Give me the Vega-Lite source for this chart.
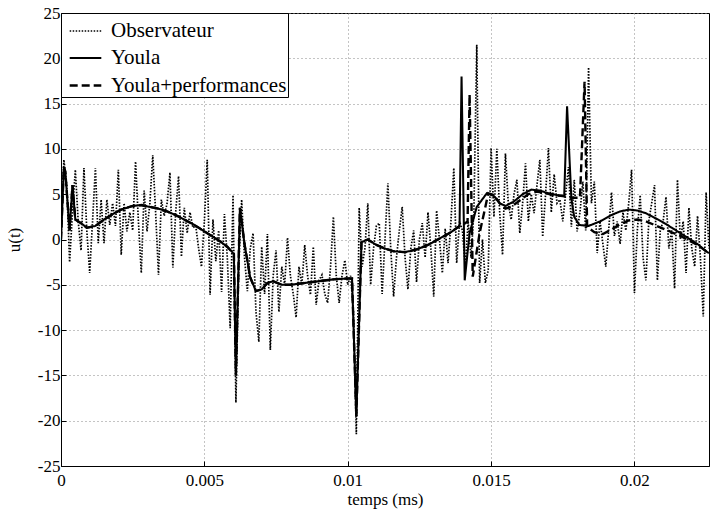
{
  "$schema": "https://vega.github.io/schema/vega-lite/v6.json",
  "width": 648,
  "height": 453,
  "autosize": {"type": "none"},
  "padding": {"left": 61, "top": 13, "right": 1, "bottom": 43},
  "background": "white",
  "config": {
    "font": "Liberation Serif",
    "view": {"stroke": "black", "strokeWidth": 1},
    "style": {
      "guide-label": {"font": "Liberation Serif"},
      "guide-title": {"font": "Liberation Serif"}
    },
    "axis": {
      "labelFont": "Liberation Serif", "titleFont": "Liberation Serif",
      "labelFontSize": 17, "titleFontSize": 17, "titleFontWeight": "normal",
      "labelColor": "black", "titleColor": "black",
      "domainColor": "black", "tickColor": "black",
      "gridColor": "#888", "gridDash": [1, 3], "gridWidth": 1,
      "tickSize": -5
    },
    "legend": {
      "labelFont": "Liberation Serif", "labelFontSize": 21, "labelColor": "black", "labelLimit": 400
    }
  },
  "data": {"values": [
{"t":0,"u":0,"s":"Observateur"},{"t":0.0001,"u":8.8,"s":"Observateur"},{"t":0.0002,"u":6,"s":"Observateur"},{"t":0.0003,"u":-2.5,"s":"Observateur"},{"t":0.0004,"u":3,"s":"Observateur"},{"t":0.0005,"u":7.7,"s":"Observateur"},{"t":0.0006,"u":2,"s":"Observateur"},{"t":0.0007,"u":-1.2,"s":"Observateur"},{"t":0.0008,"u":7.9,"s":"Observateur"},{"t":0.0009,"u":1,"s":"Observateur"},
{"t":0.0010,"u":-3.7,"s":"Observateur"},{"t":0.0011,"u":2,"s":"Observateur"},{"t":0.0012,"u":7.9,"s":"Observateur"},{"t":0.0013,"u":-0.4,"s":"Observateur"},{"t":0.0014,"u":4.4,"s":"Observateur"},{"t":0.0015,"u":-0.4,"s":"Observateur"},{"t":0.0016,"u":4.4,"s":"Observateur"},{"t":0.0017,"u":1.6,"s":"Observateur"},{"t":0.0018,"u":4,"s":"Observateur"},{"t":0.0019,"u":1.5,"s":"Observateur"},
{"t":0.0020,"u":7.7,"s":"Observateur"},{"t":0.0021,"u":-1.7,"s":"Observateur"},{"t":0.0022,"u":4,"s":"Observateur"},{"t":0.0023,"u":0.9,"s":"Observateur"},{"t":0.0024,"u":3,"s":"Observateur"},{"t":0.0025,"u":1,"s":"Observateur"},{"t":0.0026,"u":8.6,"s":"Observateur"},{"t":0.0027,"u":2,"s":"Observateur"},{"t":0.0028,"u":-3.7,"s":"Observateur"},{"t":0.0029,"u":5.4,"s":"Observateur"},
{"t":0.0030,"u":0.9,"s":"Observateur"},{"t":0.0031,"u":4,"s":"Observateur"},{"t":0.0032,"u":9.3,"s":"Observateur"},{"t":0.0033,"u":3,"s":"Observateur"},{"t":0.0034,"u":-3.9,"s":"Observateur"},{"t":0.0035,"u":4.4,"s":"Observateur"},{"t":0.0036,"u":2.6,"s":"Observateur"},{"t":0.0037,"u":4,"s":"Observateur"},{"t":0.0038,"u":7.4,"s":"Observateur"},{"t":0.0039,"u":-3.1,"s":"Observateur"},
{"t":0.0040,"u":3,"s":"Observateur"},{"t":0.0041,"u":7,"s":"Observateur"},{"t":0.0042,"u":-1.9,"s":"Observateur"},{"t":0.0043,"u":3.5,"s":"Observateur"},{"t":0.0044,"u":0.7,"s":"Observateur"},{"t":0.0045,"u":3,"s":"Observateur"},{"t":0.0046,"u":1.3,"s":"Observateur"},{"t":0.0047,"u":1.5,"s":"Observateur"},{"t":0.0048,"u":-1,"s":"Observateur"},{"t":0.0049,"u":-3,"s":"Observateur"},
{"t":0.0050,"u":2,"s":"Observateur"},{"t":0.0051,"u":8.8,"s":"Observateur"},{"t":0.0052,"u":-6.1,"s":"Observateur"},{"t":0.0053,"u":2.2,"s":"Observateur"},{"t":0.0054,"u":-2.4,"s":"Observateur"},{"t":0.0055,"u":1,"s":"Observateur"},{"t":0.0056,"u":-5.8,"s":"Observateur"},{"t":0.0057,"u":2.8,"s":"Observateur"},{"t":0.0058,"u":-2,"s":"Observateur"},{"t":0.0059,"u":-9.8,"s":"Observateur"},
{"t":0.0060,"u":4.9,"s":"Observateur"},{"t":0.0061,"u":-18,"s":"Observateur"},{"t":0.0062,"u":-3,"s":"Observateur"},{"t":0.0063,"u":4.4,"s":"Observateur"},{"t":0.0064,"u":-2,"s":"Observateur"},{"t":0.0065,"u":-5.7,"s":"Observateur"},{"t":0.0066,"u":-1,"s":"Observateur"},{"t":0.0067,"u":0.7,"s":"Observateur"},{"t":0.0068,"u":-8,"s":"Observateur"},{"t":0.0069,"u":-11.3,"s":"Observateur"},
{"t":0.0070,"u":-0.8,"s":"Observateur"},{"t":0.0071,"u":-6,"s":"Observateur"},{"t":0.0072,"u":0.6,"s":"Observateur"},{"t":0.0073,"u":-12.2,"s":"Observateur"},{"t":0.0074,"u":-4,"s":"Observateur"},{"t":0.0075,"u":-1.2,"s":"Observateur"},{"t":0.0076,"u":-8,"s":"Observateur"},{"t":0.0077,"u":-3,"s":"Observateur"},{"t":0.0078,"u":-5,"s":"Observateur"},{"t":0.0079,"u":0.2,"s":"Observateur"},
{"t":0.0080,"u":-4,"s":"Observateur"},{"t":0.0081,"u":-6,"s":"Observateur"},{"t":0.0082,"u":-8.6,"s":"Observateur"},{"t":0.0083,"u":-3,"s":"Observateur"},{"t":0.0084,"u":-5,"s":"Observateur"},{"t":0.0085,"u":-0.6,"s":"Observateur"},{"t":0.0086,"u":-4,"s":"Observateur"},{"t":0.0087,"u":-6.1,"s":"Observateur"},{"t":0.0088,"u":-0.8,"s":"Observateur"},{"t":0.0089,"u":-7.2,"s":"Observateur"},
{"t":0.0090,"u":-4.5,"s":"Observateur"},{"t":0.0091,"u":-3.9,"s":"Observateur"},{"t":0.0092,"u":-6,"s":"Observateur"},{"t":0.0093,"u":-7,"s":"Observateur"},{"t":0.0094,"u":-3,"s":"Observateur"},{"t":0.0095,"u":2.5,"s":"Observateur"},{"t":0.0096,"u":-4,"s":"Observateur"},{"t":0.0097,"u":-7,"s":"Observateur"},{"t":0.0098,"u":-4,"s":"Observateur"},{"t":0.0099,"u":-2.3,"s":"Observateur"},
{"t":0.0100,"u":-5,"s":"Observateur"},{"t":0.0101,"u":-4,"s":"Observateur"},{"t":0.0102,"u":-8,"s":"Observateur"},{"t":0.0103,"u":-21.5,"s":"Observateur"},{"t":0.0104,"u":3.5,"s":"Observateur"},{"t":0.0105,"u":-3,"s":"Observateur"},{"t":0.0106,"u":-1,"s":"Observateur"},{"t":0.0107,"u":4,"s":"Observateur"},{"t":0.0108,"u":-5,"s":"Observateur"},{"t":0.0109,"u":-1,"s":"Observateur"},
{"t":0.0110,"u":1.5,"s":"Observateur"},{"t":0.0111,"u":1.8,"s":"Observateur"},{"t":0.0112,"u":-6,"s":"Observateur"},{"t":0.0113,"u":0,"s":"Observateur"},{"t":0.0114,"u":6.2,"s":"Observateur"},{"t":0.0115,"u":-1,"s":"Observateur"},{"t":0.0116,"u":-6.3,"s":"Observateur"},{"t":0.0117,"u":-2,"s":"Observateur"},{"t":0.0118,"u":1,"s":"Observateur"},{"t":0.0119,"u":3.6,"s":"Observateur"},
{"t":0.0120,"u":-2,"s":"Observateur"},{"t":0.0121,"u":-5.5,"s":"Observateur"},{"t":0.0122,"u":-1,"s":"Observateur"},{"t":0.0123,"u":1,"s":"Observateur"},{"t":0.0124,"u":-4.7,"s":"Observateur"},{"t":0.0125,"u":0,"s":"Observateur"},{"t":0.0126,"u":1.8,"s":"Observateur"},{"t":0.0127,"u":-2,"s":"Observateur"},{"t":0.0128,"u":3,"s":"Observateur"},{"t":0.0129,"u":-1,"s":"Observateur"},
{"t":0.0130,"u":-6.3,"s":"Observateur"},{"t":0.0131,"u":3.2,"s":"Observateur"},{"t":0.0132,"u":0,"s":"Observateur"},{"t":0.0133,"u":-3.7,"s":"Observateur"},{"t":0.0134,"u":1.2,"s":"Observateur"},{"t":0.0135,"u":-2.6,"s":"Observateur"},{"t":0.0136,"u":2,"s":"Observateur"},{"t":0.0137,"u":7.9,"s":"Observateur"},{"t":0.0138,"u":-2.6,"s":"Observateur"},{"t":0.0139,"u":2,"s":"Observateur"},
{"t":0.0140,"u":1,"s":"Observateur"},{"t":0.0141,"u":-3,"s":"Observateur"},{"t":0.0142,"u":2,"s":"Observateur"},{"t":0.0143,"u":-2,"s":"Observateur"},{"t":0.0144,"u":3,"s":"Observateur"},{"t":0.0145,"u":21.5,"s":"Observateur"},{"t":0.0146,"u":-4.8,"s":"Observateur"},{"t":0.0147,"u":0,"s":"Observateur"},{"t":0.0148,"u":-4.8,"s":"Observateur"},{"t":0.0149,"u":-3.4,"s":"Observateur"},
{"t":0.0150,"u":10.1,"s":"Observateur"},{"t":0.0151,"u":2.5,"s":"Observateur"},{"t":0.0152,"u":10,"s":"Observateur"},{"t":0.0153,"u":3,"s":"Observateur"},{"t":0.0154,"u":-1.7,"s":"Observateur"},{"t":0.0155,"u":9.5,"s":"Observateur"},{"t":0.0156,"u":4,"s":"Observateur"},{"t":0.0157,"u":2.2,"s":"Observateur"},{"t":0.0158,"u":5,"s":"Observateur"},{"t":0.0159,"u":6.6,"s":"Observateur"},
{"t":0.0160,"u":0.7,"s":"Observateur"},{"t":0.0161,"u":4,"s":"Observateur"},{"t":0.0162,"u":8.4,"s":"Observateur"},{"t":0.0163,"u":2,"s":"Observateur"},{"t":0.0164,"u":5,"s":"Observateur"},{"t":0.0165,"u":2.9,"s":"Observateur"},{"t":0.0166,"u":6,"s":"Observateur"},{"t":0.0167,"u":8.8,"s":"Observateur"},{"t":0.0168,"u":0.3,"s":"Observateur"},{"t":0.0169,"u":5,"s":"Observateur"},
{"t":0.0170,"u":10.1,"s":"Observateur"},{"t":0.0171,"u":3,"s":"Observateur"},{"t":0.0172,"u":7.2,"s":"Observateur"},{"t":0.0173,"u":4,"s":"Observateur"},{"t":0.0174,"u":4.4,"s":"Observateur"},{"t":0.0175,"u":2,"s":"Observateur"},{"t":0.0176,"u":5,"s":"Observateur"},{"t":0.0177,"u":8,"s":"Observateur"},{"t":0.0178,"u":1.4,"s":"Observateur"},{"t":0.0179,"u":6.6,"s":"Observateur"},
{"t":0.0180,"u":0.9,"s":"Observateur"},{"t":0.0181,"u":3,"s":"Observateur"},{"t":0.0182,"u":6.4,"s":"Observateur"},{"t":0.0183,"u":1,"s":"Observateur"},{"t":0.0184,"u":19,"s":"Observateur"},{"t":0.0185,"u":4,"s":"Observateur"},{"t":0.0186,"u":6.4,"s":"Observateur"},{"t":0.0187,"u":-1.5,"s":"Observateur"},{"t":0.0188,"u":2,"s":"Observateur"},{"t":0.0189,"u":-0.5,"s":"Observateur"},
{"t":0.0190,"u":-3,"s":"Observateur"},{"t":0.0191,"u":1,"s":"Observateur"},{"t":0.0192,"u":5.2,"s":"Observateur"},{"t":0.0193,"u":0.4,"s":"Observateur"},{"t":0.0194,"u":2,"s":"Observateur"},{"t":0.0195,"u":-0.5,"s":"Observateur"},{"t":0.0196,"u":3,"s":"Observateur"},{"t":0.0197,"u":1,"s":"Observateur"},{"t":0.0198,"u":4,"s":"Observateur"},{"t":0.0199,"u":7.7,"s":"Observateur"},
{"t":0.0200,"u":-5.9,"s":"Observateur"},{"t":0.0201,"u":1,"s":"Observateur"},{"t":0.0202,"u":4.9,"s":"Observateur"},{"t":0.0203,"u":-2,"s":"Observateur"},{"t":0.0204,"u":-4.5,"s":"Observateur"},{"t":0.0205,"u":2,"s":"Observateur"},{"t":0.0206,"u":4,"s":"Observateur"},{"t":0.0207,"u":6,"s":"Observateur"},{"t":0.0208,"u":-4.5,"s":"Observateur"},{"t":0.0209,"u":1,"s":"Observateur"},
{"t":0.0210,"u":2,"s":"Observateur"},{"t":0.0211,"u":4.7,"s":"Observateur"},{"t":0.0212,"u":-1,"s":"Observateur"},{"t":0.0213,"u":1,"s":"Observateur"},{"t":0.0214,"u":-5.4,"s":"Observateur"},{"t":0.0215,"u":6.6,"s":"Observateur"},{"t":0.0216,"u":0,"s":"Observateur"},{"t":0.0217,"u":2,"s":"Observateur"},{"t":0.0218,"u":-3.7,"s":"Observateur"},{"t":0.0219,"u":3.5,"s":"Observateur"},
{"t":0.0220,"u":-1,"s":"Observateur"},{"t":0.0221,"u":-3,"s":"Observateur"},{"t":0.0222,"u":2.6,"s":"Observateur"},{"t":0.0223,"u":-2,"s":"Observateur"},{"t":0.0224,"u":-8.5,"s":"Observateur"},{"t":0.0225,"u":5.2,"s":"Observateur"},{"t":0.0226,"u":-1,"s":"Observateur"},

{"t":0,"u":0,"s":"Youla+performances"},{"t":0.0001,"u":8,"s":"Youla+performances"},{"t":0.00015,"u":7.5,"s":"Youla+performances"},{"t":0.0003,"u":1,"s":"Youla+performances"},{"t":0.0004,"u":6,"s":"Youla+performances"},{"t":0.0005,"u":2.2,"s":"Youla+performances"},{"t":0.0007,"u":1.8,"s":"Youla+performances"},{"t":0.0009,"u":1.3,"s":"Youla+performances"},{"t":0.0012,"u":1.5,"s":"Youla+performances"},{"t":0.0015,"u":2.2,"s":"Youla+performances"},{"t":0.0018,"u":2.8,"s":"Youla+performances"},{"t":0.0021,"u":3.3,"s":"Youla+performances"},{"t":0.0025,"u":3.7,"s":"Youla+performances"},{"t":0.0028,"u":3.8,"s":"Youla+performances"},{"t":0.0031,"u":3.6,"s":"Youla+performances"},{"t":0.0034,"u":3.4,"s":"Youla+performances"},{"t":0.0037,"u":3.1,"s":"Youla+performances"},{"t":0.004,"u":2.7,"s":"Youla+performances"},{"t":0.0043,"u":2.2,"s":"Youla+performances"},{"t":0.0046,"u":1.7,"s":"Youla+performances"},{"t":0.0049,"u":1.1,"s":"Youla+performances"},{"t":0.0052,"u":0.5,"s":"Youla+performances"},{"t":0.0055,"u":-0.1,"s":"Youla+performances"},{"t":0.0058,"u":-0.8,"s":"Youla+performances"},{"t":0.00603,"u":-1.6,"s":"Youla+performances"},{"t":0.0061,"u":-15,"s":"Youla+performances"},{"t":0.00624,"u":3.5,"s":"Youla+performances"},{"t":0.0064,"u":-0.5,"s":"Youla+performances"},{"t":0.0066,"u":-4.2,"s":"Youla+performances"},{"t":0.0068,"u":-5.7,"s":"Youla+performances"},{"t":0.007,"u":-5.5,"s":"Youla+performances"},{"t":0.0072,"u":-4.8,"s":"Youla+performances"},{"t":0.0074,"u":-4.6,"s":"Youla+performances"},{"t":0.0077,"u":-5,"s":"Youla+performances"},{"t":0.008,"u":-5,"s":"Youla+performances"},{"t":0.0085,"u":-4.8,"s":"Youla+performances"},{"t":0.009,"u":-4.6,"s":"Youla+performances"},{"t":0.0095,"u":-4.4,"s":"Youla+performances"},{"t":0.01,"u":-4.3,"s":"Youla+performances"},{"t":0.01015,"u":-4.3,"s":"Youla+performances"},{"t":0.0103,"u":-19.5,"s":"Youla+performances"},{"t":0.01048,"u":-0.3,"s":"Youla+performances"},{"t":0.0107,"u":0,"s":"Youla+performances"},{"t":0.011,"u":-0.6,"s":"Youla+performances"},{"t":0.0113,"u":-1,"s":"Youla+performances"},{"t":0.0116,"u":-1.3,"s":"Youla+performances"},{"t":0.012,"u":-1.4,"s":"Youla+performances"},{"t":0.0124,"u":-1.1,"s":"Youla+performances"},{"t":0.0128,"u":-0.6,"s":"Youla+performances"},{"t":0.0132,"u":0.1,"s":"Youla+performances"},{"t":0.0136,"u":0.8,"s":"Youla+performances"},{"t":0.0139,"u":1.5,"s":"Youla+performances"},{"t":0.0141,"u":1.8,"s":"Youla+performances"},{"t":0.01418,"u":2,"s":"Youla+performances"},{"t":0.01425,"u":16,"s":"Youla+performances"},{"t":0.01436,"u":-4.1,"s":"Youla+performances"},{"t":0.0146,"u":0.7,"s":"Youla+performances"},{"t":0.0148,"u":3.6,"s":"Youla+performances"},{"t":0.0149,"u":5.1,"s":"Youla+performances"},{"t":0.0151,"u":4.9,"s":"Youla+performances"},{"t":0.0153,"u":4,"s":"Youla+performances"},{"t":0.0155,"u":3.4,"s":"Youla+performances"},{"t":0.0157,"u":3.6,"s":"Youla+performances"},{"t":0.016,"u":4.3,"s":"Youla+performances"},{"t":0.0163,"u":5,"s":"Youla+performances"},{"t":0.0166,"u":5.3,"s":"Youla+performances"},{"t":0.0169,"u":5.1,"s":"Youla+performances"},{"t":0.0172,"u":4.9,"s":"Youla+performances"},{"t":0.0175,"u":4.8,"s":"Youla+performances"},{"t":0.0178,"u":4.6,"s":"Youla+performances"},{"t":0.0181,"u":4.6,"s":"Youla+performances"},{"t":0.01826,"u":17.4,"s":"Youla+performances"},{"t":0.01835,"u":1.4,"s":"Youla+performances"},{"t":0.0186,"u":0.8,"s":"Youla+performances"},{"t":0.0189,"u":0.6,"s":"Youla+performances"},{"t":0.0192,"u":1.1,"s":"Youla+performances"},{"t":0.0195,"u":1.7,"s":"Youla+performances"},{"t":0.0198,"u":2.1,"s":"Youla+performances"},{"t":0.0201,"u":2.2,"s":"Youla+performances"},{"t":0.0204,"u":2,"s":"Youla+performances"},{"t":0.0207,"u":1.6,"s":"Youla+performances"},{"t":0.021,"u":1.2,"s":"Youla+performances"},{"t":0.0213,"u":0.8,"s":"Youla+performances"},{"t":0.0216,"u":0.4,"s":"Youla+performances"},{"t":0.0219,"u":-0.1,"s":"Youla+performances"},{"t":0.0222,"u":-0.6,"s":"Youla+performances"},{"t":0.0225,"u":-1.3,"s":"Youla+performances"},{"t":0.0226,"u":-1.5,"s":"Youla+performances"},

{"t":0,"u":0,"s":"Youla"},{"t":0.0001,"u":8,"s":"Youla"},{"t":0.00015,"u":7.5,"s":"Youla"},{"t":0.0003,"u":1,"s":"Youla"},{"t":0.0004,"u":6,"s":"Youla"},{"t":0.0005,"u":2.2,"s":"Youla"},{"t":0.0007,"u":1.8,"s":"Youla"},{"t":0.0009,"u":1.3,"s":"Youla"},{"t":0.0012,"u":1.5,"s":"Youla"},{"t":0.0015,"u":2.2,"s":"Youla"},{"t":0.0018,"u":2.8,"s":"Youla"},{"t":0.0021,"u":3.3,"s":"Youla"},{"t":0.0025,"u":3.7,"s":"Youla"},{"t":0.0028,"u":3.8,"s":"Youla"},{"t":0.0031,"u":3.6,"s":"Youla"},{"t":0.0034,"u":3.4,"s":"Youla"},{"t":0.0037,"u":3.1,"s":"Youla"},{"t":0.004,"u":2.7,"s":"Youla"},{"t":0.0043,"u":2.2,"s":"Youla"},{"t":0.0046,"u":1.7,"s":"Youla"},{"t":0.0049,"u":1.1,"s":"Youla"},{"t":0.0052,"u":0.5,"s":"Youla"},{"t":0.0055,"u":-0.1,"s":"Youla"},{"t":0.0058,"u":-0.8,"s":"Youla"},{"t":0.00603,"u":-1.6,"s":"Youla"},{"t":0.0061,"u":-15,"s":"Youla"},{"t":0.00624,"u":3.5,"s":"Youla"},{"t":0.0064,"u":-0.5,"s":"Youla"},{"t":0.0066,"u":-4.2,"s":"Youla"},{"t":0.0068,"u":-5.7,"s":"Youla"},{"t":0.007,"u":-5.5,"s":"Youla"},{"t":0.0072,"u":-4.8,"s":"Youla"},{"t":0.0074,"u":-4.6,"s":"Youla"},{"t":0.0077,"u":-5,"s":"Youla"},{"t":0.008,"u":-5,"s":"Youla"},{"t":0.0085,"u":-4.8,"s":"Youla"},{"t":0.009,"u":-4.6,"s":"Youla"},{"t":0.0095,"u":-4.4,"s":"Youla"},{"t":0.01,"u":-4.3,"s":"Youla"},{"t":0.01015,"u":-4.3,"s":"Youla"},{"t":0.0103,"u":-19.5,"s":"Youla"},{"t":0.01048,"u":-0.3,"s":"Youla"},{"t":0.0107,"u":0,"s":"Youla"},{"t":0.011,"u":-0.6,"s":"Youla"},{"t":0.0113,"u":-1,"s":"Youla"},{"t":0.0116,"u":-1.3,"s":"Youla"},{"t":0.012,"u":-1.4,"s":"Youla"},{"t":0.0124,"u":-1.1,"s":"Youla"},{"t":0.0128,"u":-0.6,"s":"Youla"},{"t":0.0132,"u":0.1,"s":"Youla"},{"t":0.0136,"u":0.8,"s":"Youla"},{"t":0.0139,"u":1.5,"s":"Youla"},{"t":0.01397,"u":18,"s":"Youla"},{"t":0.01408,"u":-4.5,"s":"Youla"},{"t":0.01425,"u":0.7,"s":"Youla"},{"t":0.0145,"u":3.6,"s":"Youla"},{"t":0.01485,"u":5.1,"s":"Youla"},{"t":0.0151,"u":4.8,"s":"Youla"},{"t":0.0153,"u":4,"s":"Youla"},{"t":0.0155,"u":3.7,"s":"Youla"},{"t":0.0158,"u":4.2,"s":"Youla"},{"t":0.0161,"u":5,"s":"Youla"},{"t":0.0164,"u":5.5,"s":"Youla"},{"t":0.0167,"u":5.4,"s":"Youla"},{"t":0.017,"u":5.1,"s":"Youla"},{"t":0.0173,"u":4.9,"s":"Youla"},{"t":0.01755,"u":4.8,"s":"Youla"},{"t":0.01765,"u":14.7,"s":"Youla"},{"t":0.0178,"u":4.5,"s":"Youla"},{"t":0.0179,"u":2.5,"s":"Youla"},{"t":0.01808,"u":1.6,"s":"Youla"},{"t":0.0184,"u":1.5,"s":"Youla"},{"t":0.0188,"u":2,"s":"Youla"},{"t":0.0192,"u":2.7,"s":"Youla"},{"t":0.0195,"u":3.1,"s":"Youla"},{"t":0.0198,"u":3.3,"s":"Youla"},{"t":0.0201,"u":3.2,"s":"Youla"},{"t":0.0204,"u":2.9,"s":"Youla"},{"t":0.0207,"u":2.4,"s":"Youla"},{"t":0.021,"u":1.9,"s":"Youla"},{"t":0.0213,"u":1.3,"s":"Youla"},{"t":0.0216,"u":0.7,"s":"Youla"},{"t":0.0219,"u":0.1,"s":"Youla"},{"t":0.0222,"u":-0.5,"s":"Youla"},{"t":0.0225,"u":-1.3,"s":"Youla"},{"t":0.0226,"u":-1.5,"s":"Youla"}
  ]},
  "mark": {"type": "line", "color": "black", "clip": true, "strokeCap": "butt", "strokeJoin": "miter"},
  "encoding": {
    "x": {
      "field": "t", "type": "quantitative",
      "scale": {"domain": [0, 0.0226], "nice": false, "zero": false},
      "axis": {
        "title": "temps (ms)", "values": [0, 0.005, 0.01, 0.015, 0.02],
        "labelFont": "Liberation Serif", "titleFont": "Liberation Serif",
        "labelExpr": "toString(datum.value)", "labelPadding": 11, "titlePadding": 3,
        "labelFlush": false
      }
    },
    "y": {
      "field": "u", "type": "quantitative",
      "scale": {"domain": [-25, 25], "nice": false},
      "axis": {
        "title": "u(t)", "values": [-25, -20, -15, -10, -5, 0, 5, 10, 15, 20, 25],
        "labelFont": "Liberation Serif", "titleFont": "Liberation Serif",
        "labelExpr": "toString(datum.value)", "labelPadding": 6, "titlePadding": 14
      }
    },
    "strokeDash": {
      "field": "s", "type": "nominal",
      "scale": {"domain": ["Observateur", "Youla", "Youla+performances"], "range": [[1.5, 1.5], [1, 0], [8, 4]]},
      "legend": {
        "title": null, "orient": "top-left", "offset": 0, "padding": 1,
        "strokeColor": "black", "fillColor": "white",
        "symbolType": "stroke", "symbolSize": 1000, "symbolStrokeColor": "black", "symbolOffset": 6,
        "rowPadding": -5, "labelOffset": 8, "labelFontSize": 21, "labelLimit": 400
      }
    },
    "strokeWidth": {
      "field": "s", "type": "nominal",
      "scale": {"domain": ["Observateur", "Youla", "Youla+performances"], "range": [1.7, 2.4, 2.3]},
      "legend": {
        "title": null, "orient": "top-left", "offset": 0, "padding": 1,
        "strokeColor": "black", "fillColor": "white",
        "symbolType": "stroke", "symbolSize": 1000, "symbolStrokeColor": "black", "symbolOffset": 6,
        "rowPadding": -5, "labelOffset": 8, "labelFontSize": 21, "labelLimit": 400
      }
    },
    "order": {"field": "t"}
  }
}
